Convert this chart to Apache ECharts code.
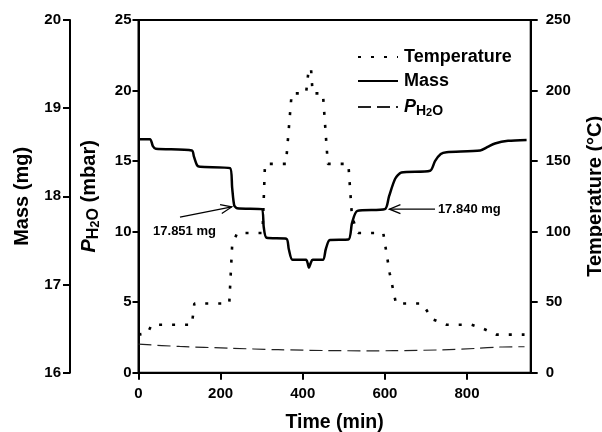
<!DOCTYPE html>
<html><head><meta charset="utf-8">
<script src="https://cdn.jsdelivr.net/npm/echarts@6/dist/echarts.min.js"></script>
<style>html,body{margin:0;padding:0;background:#fff}#c{width:602px;height:432px}</style>
</head><body><div id="c"></div><script>
// ---- data (time in min) ----
const massTime = [0, 28, 35, 42, 130, 135, 143, 150, 223, 228, 233, 240, 300, 305, 312, 360, 366, 375, 408, 412, 415, 419, 424, 449, 456, 466, 511, 520, 533, 600, 610, 625, 640, 710, 722, 736, 750, 832, 850, 868, 900, 945];
const massVal  = [18.648, 18.648, 18.57, 18.54, 18.52, 18.45, 18.35, 18.335, 18.32, 18.1, 17.9, 17.865, 17.855, 17.65, 17.53, 17.52, 17.4, 17.28, 17.28, 17.24, 17.19, 17.24, 17.28, 17.28, 17.4, 17.506, 17.51, 17.7, 17.835, 17.855, 18.0, 18.2, 18.27, 18.29, 18.4, 18.48, 18.5, 18.52, 18.56, 18.6, 18.63, 18.64];
const tempTime = [0, 22, 32, 130, 136, 221, 228, 240, 302, 308, 359, 373, 408, 414, 420, 424, 449, 461, 511, 520, 535, 596, 612, 627, 690, 700, 715, 750, 811, 841, 871, 940];
const tempVal  = [27, 28, 34, 34, 49, 49, 90, 99, 99, 148, 148, 198, 198, 214, 216, 198, 198, 148, 148, 110, 99, 99, 70, 49, 49, 45, 38, 34, 34, 31, 27, 27];
const pTime = [0, 100, 220, 340, 460, 560, 620, 740, 820, 880, 940];
const pVal  = [2.02, 1.86, 1.74, 1.63, 1.57, 1.55, 1.56, 1.62, 1.72, 1.82, 1.84];
const xTicks = [0, 200, 400, 600, 800];
const annoLabels = ['17.851 mg', '17.840 mg'];
const annoTip  = [[227, 17.88], [611, 17.855]];
const annoTail = [[101, 17.765], [722, 17.855]];
const annoText = [[112, 17.60], [729, 17.855]];
const annoAlign = ['center', 'left'];

const F = '"Liberation Sans", Arial, Helvetica, sans-serif';
const pairs = (a, b) => a.map((t, i) => [t, b[i]]);
const lab = { fontFamily: F, fontSize: 15, fontWeight: 'bold', color: '#000' };
const ttl = { fontFamily: F, fontSize: 20, fontWeight: 'bold', color: '#000' };
const line2 = { show: true, onZero: false, lineStyle: { color: '#000', width: 2 } };
const tick = { show: true, inside: false, length: 7, lineStyle: { color: '#000', width: 2 } };
const subRich = (fs) => ({
  n: { fontFamily: F, fontSize: fs, fontWeight: 'bold', color: '#000', lineHeight: fs + 4 },
  p: { fontFamily: F, fontSize: fs, fontWeight: 'bold', fontStyle: 'italic', color: '#000', lineHeight: fs + 4 },
  h: { fontFamily: F, fontSize: fs - 4, fontWeight: 'bold', color: '#000', verticalAlign: 'bottom', padding: [Math.round(fs * 0.4), 0, 0, 0], lineHeight: fs + 4 },
  t: { fontFamily: F, fontSize: fs - 7, fontWeight: 'bold', color: '#000', verticalAlign: 'bottom', padding: [Math.round(fs * 0.62), 0, 0, 0], lineHeight: fs + 4 }
});

const chart = echarts.init(document.getElementById('c'));
chart.setOption({
  animation: false,
  backgroundColor: '#fff',
  grid: { left: 138.5, right: 71.3, top: 20, bottom: 59.3, containLabel: false, outerBoundsMode: 'none',
    show: true, borderColor: '#000', borderWidth: 2, backgroundColor: 'transparent' },
  legend: {
    orient: 'vertical', left: 352, top: 43, itemWidth: 40, itemHeight: 14, itemGap: 6,
    data: ['Temperature', 'Mass', 'PH2O'],
    itemStyle: { color: 'transparent', borderColor: 'transparent', borderWidth: 0, opacity: 0 },
    formatter: n => n === 'PH2O' ? '{p|P}{h|H}{t|2}{h|O}' : '{n|' + n + '}',
    textStyle: { fontFamily: F, fontSize: 18, fontWeight: 'bold', color: '#000', padding: [0, 0, 0, 1], rich: subRich(18) }
  },
  xAxis: {
    type: 'value', min: 0, max: 955, interval: 200,
    axisLine: line2, axisTick: Object.assign({ customValues: xTicks }, tick),
    axisLabel: Object.assign({ margin: 14, customValues: xTicks, formatter: v => (v % 200 === 0 ? String(v) : '') }, lab),
    splitLine: { show: false },
    name: 'Time (min)', nameLocation: 'middle', nameGap: 40,
    nameTextStyle: Object.assign({}, ttl, { fontSize: 19.5 })
  },
  yAxis: [
    { type: 'value', position: 'left', offset: 68.5, min: 16, max: 20, interval: 1,
      axisLine: line2, axisTick: tick, axisLabel: Object.assign({ margin: 9 }, lab), splitLine: { show: false },
      name: 'Mass (mg)', nameLocation: 'middle', nameRotate: 90, nameGap: 38, nameTextStyle: ttl },
    { type: 'value', position: 'left', offset: 0, min: 0, max: 25, interval: 5,
      axisLine: line2, axisTick: Object.assign({}, tick, { length: 6 }), axisLabel: Object.assign({ margin: 7 }, lab), splitLine: { show: false },
      name: '{p|P}{h|H}{t|2}{h|O}{n| (mbar)}', nameLocation: 'middle', nameRotate: 90, nameGap: 37,
      nameTextStyle: Object.assign({}, ttl, { rich: subRich(20) }) },
    { type: 'value', position: 'right', offset: 0, min: 0, max: 250, interval: 50,
      axisLine: line2, axisTick: tick, axisLabel: Object.assign({ margin: 15 }, lab), splitLine: { show: false },
      name: 'Temperature (°C)', nameLocation: 'middle', nameRotate: 90, nameGap: 55, nameTextStyle: ttl }
  ],
  series: [
    { name: 'Temperature', type: 'line', yAxisIndex: 2, showSymbol: false, symbol: 'none', smooth: false,
      data: pairs(tempTime, tempVal), lineStyle: { color: '#000', width: 2.6, type: [3, 10], cap: 'butt' }, itemStyle: { color: '#000' } },
    { name: 'Mass', type: 'line', yAxisIndex: 0, showSymbol: false, symbol: 'none', smooth: 0.25,
      data: pairs(massTime, massVal), lineStyle: { color: '#000', width: 2.5 }, itemStyle: { color: '#000' } },
    { name: 'PH2O', type: 'line', yAxisIndex: 1, showSymbol: false, symbol: 'none', smooth: 0.3,
      data: pairs(pTime, pVal), lineStyle: { color: '#222', width: 1.2, type: [13, 6] }, itemStyle: { color: '#222' } }
  ]
});

// annotations anchored to data coordinates
const g = [];
for (let i = 0; i < annoLabels.length; i++) {
  const tip = chart.convertToPixel({ xAxisIndex: 0, yAxisIndex: 0 }, annoTip[i]);
  const tail = chart.convertToPixel({ xAxisIndex: 0, yAxisIndex: 0 }, annoTail[i]);
  const tp = chart.convertToPixel({ xAxisIndex: 0, yAxisIndex: 0 }, annoText[i]);
  const dx = tail[0] - tip[0], dy = tail[1] - tip[1], L = Math.hypot(dx, dy);
  const ux = dx / L, uy = dy / L, hl = 11, hw = 4.5;
  const a = [tip[0] + ux * hl - uy * hw, tip[1] + uy * hl + ux * hw];
  const b = [tip[0] + ux * hl + uy * hw, tip[1] + uy * hl - ux * hw];
  g.push({ type: 'line', shape: { x1: tail[0], y1: tail[1], x2: tip[0], y2: tip[1] }, style: { stroke: '#000', lineWidth: 1.3 }, z: 100 });
  g.push({ type: 'polyline', shape: { points: [a, tip, b] }, style: { stroke: '#000', lineWidth: 1.3, fill: null }, z: 100 });
  g.push({ type: 'text', x: tp[0], y: tp[1], style: { text: annoLabels[i], font: 'bold 13px ' + F, fill: '#000', align: annoAlign[i], verticalAlign: 'middle' }, z: 100 });
}
chart.setOption({ graphic: g });
</script></body></html>
